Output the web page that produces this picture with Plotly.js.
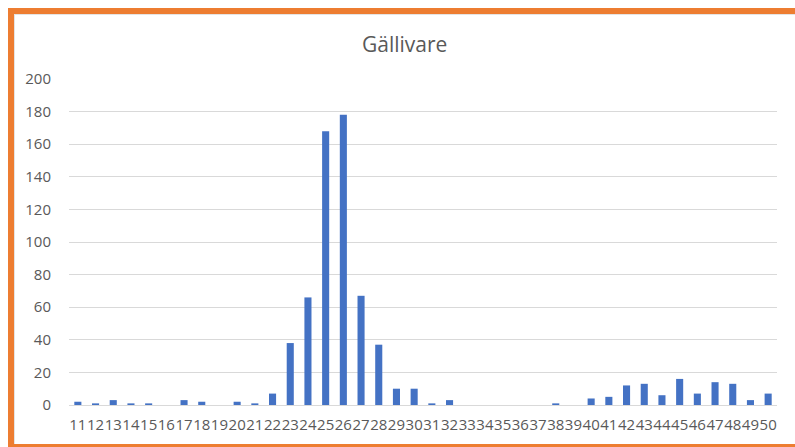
<!DOCTYPE html>
<html>
<head>
<meta charset="utf-8">
<script src="https://cdn.plot.ly/plotly-3.0.1.min.js"></script>
<style>
  html, body { margin: 0; padding: 0; background: #ffffff; overflow: hidden; }
  #wrap { position: relative; width: 795px; height: 447px; }
  #chart { position: absolute; left: 0; top: 0; width: 795px; height: 447px; }
  .frame { position: absolute; background: #ED7D31; }
  .inner { position: absolute; background: #E4E4E4; }
</style>
</head>
<body>
<div id="wrap">
  <div id="chart"></div>
  <div class="inner" style="left:14px; top:14px; width:781px; height:1px;"></div>
  <div class="inner" style="left:14px; top:14px; width:1px; height:430px;"></div>
  <div class="frame" style="left:8px; top:8px; width:787px; height:6px;"></div>
  <div class="frame" style="left:8px; top:8px; width:6px; height:439px;"></div>
  <div class="frame" style="left:8px; top:444px; width:787px; height:3px;"></div>
</div>
<script>
const chartTitle = "Gällivare";
const categories = ["11","12","13","14","15","16","17","18","19","20",
                    "21","22","23","24","25","26","27","28","29","30",
                    "31","32","33","34","35","36","37","38","39","40",
                    "41","42","43","44","45","46","47","48","49","50"];
const values = [2, 1, 3, 1, 1, 0, 3, 2, 0, 2,
                1, 7, 38, 66, 168, 178, 67, 37, 10, 10,
                1, 3, 0, 0, 0, 0, 0, 1, 0, 4,
                5, 12, 13, 6, 16, 7, 14, 13, 3, 7];
const yTicks = [0, 20, 40, 60, 80, 100, 120, 140, 160, 180, 200];

const textColor = "#595959";
const fontFam = "'Open Sans', 'Noto Sans', sans-serif";

const trace = {
  type: "bar",
  x: categories,
  y: values,
  marker: { color: "#4472C4" },
  hoverinfo: "x+y"
};

const layout = {
  width: 795,
  height: 447,
  margin: { l: 69, r: 18, t: 79, b: 42, pad: 0 },
  paper_bgcolor: "#ffffff",
  plot_bgcolor: "#ffffff",
  showlegend: false,
  bargap: 0.6,
  title: {
    text: chartTitle,
    font: { family: fontFam, size: 21, color: textColor },
    x: 0.509, xanchor: "center",
    y: 1 - 45 / 447, yref: "container", yanchor: "middle"
  },
  xaxis: {
    type: "category",
    tickmode: "array",
    tickvals: categories,
    ticktext: categories,
    tickangle: 0,
    tickfont: { family: fontFam, size: 15, color: textColor },
    showgrid: false,
    showline: false,
    zeroline: false,
    ticks: "",
    ticklabelstandoff: 9
  },
  yaxis: {
    range: [0, 200],
    tickmode: "array",
    tickvals: yTicks,
    ticktext: yTicks.map(String),
    tickfont: { family: fontFam, size: 15, color: textColor },
    showgrid: true,
    gridcolor: "#D9D9D9",
    gridwidth: 1,
    zeroline: true,
    zerolinecolor: "#D9D9D9",
    zerolinewidth: 1,
    showline: false,
    ticks: "",
    ticklabelstandoff: 17
  }
};

Plotly.newPlot("chart", [trace], layout, { displayModeBar: false, staticPlot: true });
</script>
</body>
</html>
